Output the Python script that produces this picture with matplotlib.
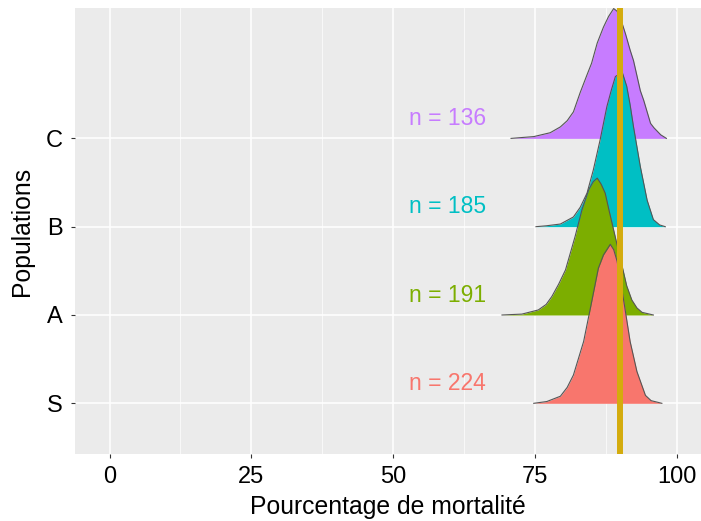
import matplotlib.pyplot as plt
import numpy as np

plt.rcParams['font.family'] = ['Liberation Sans', 'DejaVu Sans']

populations = ['S', 'A', 'B', 'C']
colors = ['#F8766D', '#7CAE00', '#00BFC4', '#C77CFF']
counts = [224, 191, 185, 136]

# densites (x en %, hauteur en unites de l'axe y)
x_S = [74.8, 77.1, 79.5, 80.7, 81.8, 83.6, 84.8, 86.2, 87.1, 88.3, 88.9, 89.5, 90.7, 91.8, 93.0, 94.5, 95.5, 97.4]
h_S = [0.0, 0.02, 0.08, 0.18, 0.32, 0.70, 1.08, 1.53, 1.68, 1.80, 1.74, 1.61, 1.15, 0.70, 0.36, 0.09, 0.03, 0.0]

x_A = [69.2, 72.7, 75.6, 77.0, 78.0, 79.2, 80.4, 82.1, 83.3, 84.5, 85.3, 86.0, 86.7, 87.4, 88.1, 88.9, 90.4, 91.2, 92.1, 93.0, 93.9, 95.9]
h_A = [0.0, 0.01, 0.057, 0.12, 0.21, 0.35, 0.51, 0.89, 1.19, 1.42, 1.51, 1.55, 1.48, 1.38, 1.18, 0.96, 0.55, 0.33, 0.17, 0.08, 0.03, 0.0]

x_B = [75.2, 77.0, 79.5, 81.8, 83.0, 84.2, 85.3, 86.5, 87.7, 88.5, 89.2, 90.4, 91.2, 91.8, 92.4, 93.6, 94.8, 95.9, 97.0, 98.0]
h_B = [0.0, 0.01, 0.03, 0.11, 0.22, 0.38, 0.64, 0.98, 1.36, 1.55, 1.70, 1.75, 1.59, 1.38, 1.13, 0.68, 0.30, 0.08, 0.02, 0.0]

x_C = [70.8, 74.8, 77.7, 79.5, 80.7, 81.8, 83.0, 84.2, 85.0, 86.0, 87.1, 88.0, 88.9, 89.5, 90.1, 91.0, 91.8, 92.4, 93.6, 94.2, 95.4, 96.0, 97.2, 98.2]
h_C = [0.0, 0.02, 0.064, 0.13, 0.20, 0.30, 0.52, 0.72, 0.85, 1.08, 1.26, 1.38, 1.47, 1.44, 1.36, 1.18, 1.00, 0.88, 0.54, 0.43, 0.17, 0.12, 0.04, 0.0]

curves_x = [x_S, x_A, x_B, x_C]
curves_h = [h_S, h_A, h_B, h_C]
seuil = 90

fig = plt.figure(figsize=(7.01, 5.21), dpi=100)
ax = fig.add_axes([0.107, 0.1286, 0.893, 0.856])
ax.set_facecolor('#EBEBEB')
for s in ax.spines.values():
    s.set_visible(False)

ax.set_xlim(-6.1, 104.3)
ax.set_ylim(-0.574, 4.476)
ax.set_xticks([0, 25, 50, 75, 100])
ax.set_xticks([12.5, 37.5, 62.5, 87.5], minor=True)
ax.set_yticks(range(len(populations)))
ax.set_yticklabels(populations)
ax.grid(which='major', color='white', linewidth=1.1)
ax.grid(which='minor', axis='x', color='white', linewidth=0.5)
ax.set_axisbelow(True)
ax.tick_params(which='major', length=3, width=0.8, color='#333333', labelsize=17, labelcolor='black', pad=6)
ax.tick_params(which='minor', length=0)

for i in range(len(populations)):
    xs = np.array(curves_x[i])
    hs = np.array(curves_h[i]) + i
    z = 10 - i
    ax.fill_between(xs, i, hs, color=colors[i], linewidth=0, zorder=z)
    ax.plot(xs, hs, color='#555555', linewidth=0.8, zorder=z)
    ax.text(59.6, i + 0.15, 'n = %d' % counts[i], color=colors[i], fontsize=16.5,
            ha='center', va='baseline', zorder=20)

ax.axvline(seuil, color='#D4AC0D', linewidth=4.3, zorder=15)

ax.set_xlabel('Pourcentage de mortalité', fontsize=17.8, labelpad=5)
ax.set_ylabel('Populations', fontsize=17.8, labelpad=8)

fig.savefig('out.png', dpi=100)
